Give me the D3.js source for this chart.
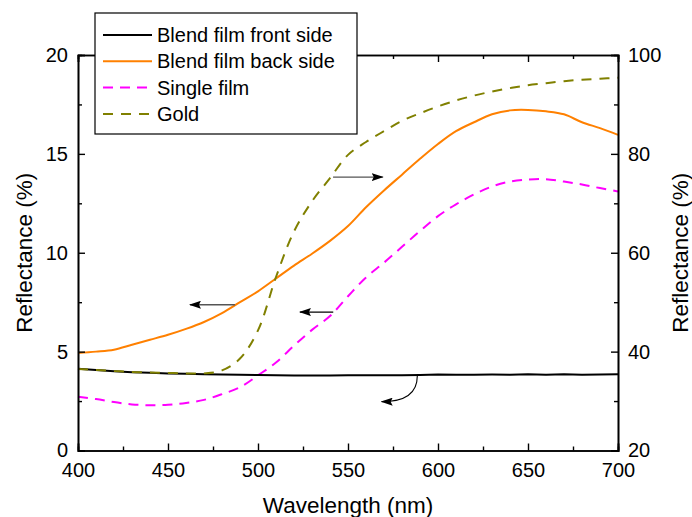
<!DOCTYPE html>
<html><head><meta charset="utf-8">
<script src="https://cdn.jsdelivr.net/npm/d3@7"></script>
<style>
body{margin:0;background:#fff;}
svg{display:block;font-family:"Liberation Sans",Arial,sans-serif;}
</style></head>
<body>
<script>
const wavelength = [400,410,420,430,440,450,460,470,480,490,500,510,520,530,540,550,560,570,580,590,600,610,620,630,640,650,660,670,680,690,700];
const frontSide = [4.13,4.07,4.01,3.96,3.93,3.90,3.88,3.86,3.84,3.83,3.82,3.80,3.79,3.79,3.79,3.80,3.80,3.81,3.81,3.82,3.84,3.83,3.83,3.84,3.83,3.85,3.83,3.85,3.83,3.84,3.85];
const backSide = [4.93,5.00,5.10,5.35,5.60,5.85,6.15,6.50,6.95,7.50,8.05,8.70,9.35,9.95,10.60,11.35,12.30,13.15,13.95,14.75,15.50,16.15,16.60,17.00,17.20,17.22,17.15,17.00,16.60,16.30,15.96];
const singleFilm = [2.72,2.60,2.45,2.33,2.29,2.31,2.40,2.56,2.85,3.20,3.80,4.45,5.30,6.10,6.80,7.80,8.75,9.50,10.30,11.10,11.85,12.45,12.95,13.35,13.60,13.70,13.72,13.60,13.45,13.27,13.10];
const gold = [36.5,36.3,36.1,35.9,35.8,35.7,35.6,35.6,36.2,38.6,44.3,55.1,64.3,70.4,75.1,79.8,82.4,84.6,86.7,88.2,89.6,90.8,91.8,92.6,93.3,93.9,94.3,94.7,95.0,95.2,95.4];
const seriesNames = ["Blend film front side","Blend film back side","Single film","Gold"];
const xTicks = [400,450,500,550,600,650,700];
const xMinorTicks = [425,475,525,575,625,675];
const yLeftTicks = [0,5,10,15,20];
const yLeftMinorTicks = [2.5,7.5,12.5,17.5];
const yRightTicks = [20,40,60,80,100];
const yRightMinorTicks = [30,50,70,90];
// annotation arrows: [x1,y1,x2,y2] in data units (wavelength, value)
const arrowGold = [541.7,75.3,569.3,75.3];
const arrowBack = [487.2,7.37,462.2,7.37];
const arrowSingle = [541.8,7.0,523.3,7.0];
const arrowFront = [588.5,3.77,568.7,2.47];

const W=692,H=517;
const L=78,R=618,T=55,B=450.5;
const svg=d3.select("body").append("svg").attr("width",W).attr("height",H);
const x=d3.scaleLinear().domain([400,700]).range([L,R]);
const yL=d3.scaleLinear().domain([0,20]).range([B,T]);
const yR=d3.scaleLinear().domain([20,100]).range([B,T]);

const defs=svg.append("defs");
defs.append("marker").attr("id","ah").attr("viewBox","0 0 12 8").attr("refX",11).attr("refY",4)
  .attr("markerWidth",12).attr("markerHeight",8).attr("markerUnits","userSpaceOnUse").attr("orient","auto")
  .append("path").attr("d","M0,0 L12,4 L0,8 L2,4 Z").attr("fill","#000");

const pts=(arr)=>wavelength.map((w,i)=>[w,arr[i]]);
const lineL=d3.line().x(d=>x(d[0])).y(d=>yL(d[1]));
const lineLs=d3.line().x(d=>x(d[0])).y(d=>yL(d[1])).curve(d3.curveCatmullRom);
const lineRs=d3.line().x(d=>x(d[0])).y(d=>yR(d[1])).curve(d3.curveCatmullRom);
const g=svg.append("g");
g.append("path").attr("d",lineLs(pts(singleFilm))).attr("fill","none").attr("stroke","#ff00ff").attr("stroke-width",2).attr("stroke-dasharray","10,7");
g.append("path").attr("d",lineLs(pts(backSide))).attr("fill","none").attr("stroke","#ff8000").attr("stroke-width",2);
g.append("path").attr("d",lineL(pts(frontSide))).attr("fill","none").attr("stroke","#000").attr("stroke-width",2);
g.append("path").attr("d",lineRs(pts(gold))).attr("fill","none").attr("stroke","#808000").attr("stroke-width",2).attr("stroke-dasharray","10,8");

function straight(a,ys,color){
  svg.append("line").attr("x1",x(a[0])).attr("y1",ys(a[1])).attr("x2",x(a[2])).attr("y2",ys(a[3]))
   .attr("stroke",color).attr("stroke-width",1.3).attr("marker-end","url(#ah)");
}
straight(arrowGold,yR,"#555");
straight(arrowBack,yL,"#555");
straight(arrowSingle,yL,"#000");
{
  const x1=x(arrowFront[0]),y1=yL(arrowFront[1]),x2=x(arrowFront[2]),y2=yL(arrowFront[3]);
  svg.append("path").attr("d",`M${x1},${y1} C${x1},${y1+16} ${x1-10},${y2} ${x2},${y2}`)
   .attr("fill","none").attr("stroke","#000").attr("stroke-width",1.1).attr("marker-end","url(#ah)");
}

const fs=20;
function styleAxis(sel){
  sel.select(".domain").attr("stroke","#000").attr("stroke-width",1.6);
  sel.selectAll(".tick line").attr("stroke","#000").attr("stroke-width",1.4);
  sel.selectAll("text").attr("font-size",fs).attr("fill","#000").attr("font-family","Liberation Sans, Arial, sans-serif");
}
const ax=[];
ax.push(svg.append("g").attr("transform",`translate(0,${B})`).call(d3.axisBottom(x).tickValues(xTicks).tickSize(-7).tickPadding(12).tickFormat(d3.format("d"))));
ax.push(svg.append("g").attr("transform",`translate(0,${B})`).call(d3.axisBottom(x).tickValues(xMinorTicks).tickSize(-4).tickFormat("")));
ax.push(svg.append("g").attr("transform",`translate(0,${T})`).call(d3.axisTop(x).tickValues(xTicks).tickSize(-7).tickFormat("")));
ax.push(svg.append("g").attr("transform",`translate(0,${T})`).call(d3.axisTop(x).tickValues(xMinorTicks).tickSize(-4).tickFormat("")));
ax.push(svg.append("g").attr("transform",`translate(${L},0)`).call(d3.axisLeft(yL).tickValues(yLeftTicks).tickSize(-7).tickPadding(10).tickFormat(d3.format("d"))));
ax.push(svg.append("g").attr("transform",`translate(${L},0)`).call(d3.axisLeft(yL).tickValues(yLeftMinorTicks).tickSize(-4).tickFormat("")));
ax.push(svg.append("g").attr("transform",`translate(${R},0)`).call(d3.axisRight(yR).tickValues(yRightTicks).tickSize(-7).tickPadding(10).tickFormat(d3.format("d"))));
ax.push(svg.append("g").attr("transform",`translate(${R},0)`).call(d3.axisRight(yR).tickValues(yRightMinorTicks).tickSize(-4).tickFormat("")));
ax.forEach(styleAxis);

const tfs=22.5;
svg.append("text").attr("x",(L+R)/2).attr("y",513).attr("text-anchor","middle").attr("font-size",tfs).text("Wavelength (nm)");
svg.append("text").attr("transform",`translate(32,${(T+B)/2}) rotate(-90)`).attr("text-anchor","middle").attr("font-size",tfs).text("Reflectance (%)");
svg.append("text").attr("transform",`translate(688,${(T+B)/2}) rotate(-90)`).attr("text-anchor","middle").attr("font-size",tfs).text("Reflectance (%)");

const lg=svg.append("g");
lg.append("rect").attr("x",95).attr("y",13).attr("width",262).attr("height",121).attr("fill","#fff").attr("stroke","#000").attr("stroke-width",1.2);
const legColors=["#000","#ff8000","#ff00ff","#808000"];
const legDash=[null,null,"10,7","10,8"];
seriesNames.forEach((n,i)=>{
  const yy=35+i*26.3;
  lg.append("line").attr("x1",103).attr("x2",152).attr("y1",yy).attr("y2",yy).attr("stroke",legColors[i]).attr("stroke-width",2).attr("stroke-dasharray",legDash[i]);
  lg.append("text").attr("x",157).attr("y",yy).attr("dy","0.35em").attr("font-size",20).text(n);
});
</script>
</body></html>
